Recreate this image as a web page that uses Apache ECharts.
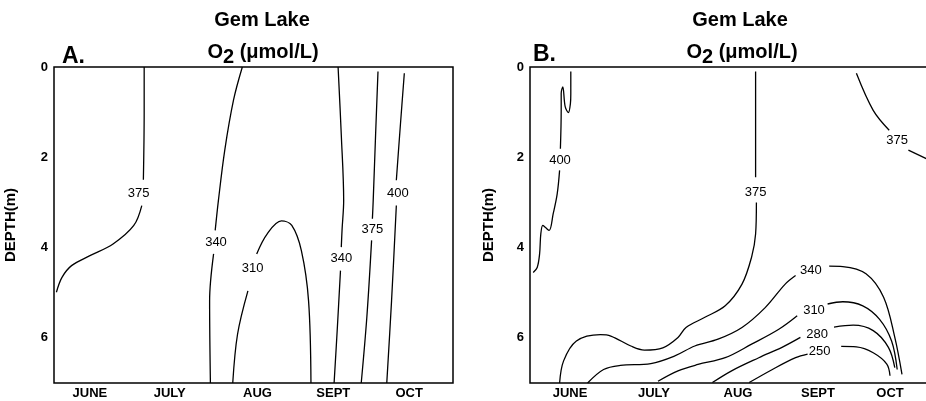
<!DOCTYPE html>
<html>
<head>
<meta charset="utf-8">
<script src="https://cdn.jsdelivr.net/npm/echarts@6/dist/echarts.min.js"></script>
<style>
  html, body { margin: 0; padding: 0; background: #fff; }
  #wrap { width: 926px; height: 401px; }
</style>
</head>
<body>
<div id="wrap"></div>
<script>
// months, x in "month units" (0 = start of June)
var months = ['JUNE', 'JULY', 'AUG', 'SEPT', 'OCT'];
var monthPosA = [0.45, 1.45, 2.55, 3.5, 4.45];
var monthPosB = [0.5, 1.55, 2.6, 3.6, 4.5];
var depthTicks = [0, 2, 4, 6];

// contour lines, each one a list of segments of [month, depth(m)]
// panel A
var a375w = [
  [[1.13, 0], [1.13, 1.0], [1.12, 2.5]],
  [[1.10, 3.07], [1.00, 3.51], [0.74, 3.92], [0.45, 4.18], [0.22, 4.40], [0.10, 4.66], [0.03, 4.99]]
];
var a340w = [
  [[2.36, 0], [2.25, 0.73], [2.14, 1.84], [2.06, 2.96], [2.02, 3.62]],
  [[2.0, 4.14], [1.95, 5.18], [1.96, 7.0]]
];
var a310 = [
  [[2.24, 7.0], [2.30, 5.92], [2.43, 4.96]],
  [[2.54, 4.14], [2.67, 3.70], [2.85, 3.41], [2.98, 3.51], [3.10, 4.07], [3.19, 5.18], [3.22, 7.0]]
];
var a340e = [
  [[3.56, 0], [3.60, 1.5], [3.63, 2.96], [3.61, 3.6], [3.60, 3.99]],
  [[3.59, 4.51], [3.55, 5.8], [3.51, 7.0]]
];
var a375e = [
  [[4.06, 0.1], [4.03, 1.5], [4.0, 2.96], [3.99, 3.36]],
  [[3.98, 3.84], [3.92, 5.55], [3.85, 7.0]]
];
var a400 = [
  [[4.39, 0.14], [4.34, 1.3], [4.29, 2.51]],
  [[4.29, 3.07], [4.23, 5.18], [4.17, 7.0]]
];
var aLabels = [['375', 1.06, 2.8], ['340', 2.03, 3.88], ['310', 2.49, 4.47],
               ['340', 3.60, 4.24], ['375', 3.99, 3.6], ['400', 4.31, 2.81]];

// panel B
var b400 = [
  [[0.51, 0.1], [0.51, 0.6], [0.505, 0.81], [0.48, 1.01], [0.44, 0.88], [0.41, 0.44], [0.39, 0.58], [0.39, 0.96], [0.38, 1.81]],
  [[0.37, 2.29], [0.34, 2.81], [0.29, 3.25], [0.24, 3.62], [0.19, 3.55], [0.16, 3.51], [0.135, 3.7], [0.12, 4.14], [0.09, 4.44], [0.04, 4.55]]
];
var b375 = [
  [[2.82, 0.1], [2.82, 2.44]],
  [[2.83, 3.0], [2.82, 3.7], [2.77, 4.21], [2.65, 4.81], [2.44, 5.29], [2.18, 5.55], [1.95, 5.77], [1.85, 5.99],
   [1.66, 6.22], [1.43, 6.27], [1.26, 6.18], [1.01, 5.96], [0.88, 5.93], [0.58, 6.07], [0.42, 6.51], [0.37, 7.0]]
];
var b375e = [
  [[4.08, 0.14], [4.29, 0.96], [4.49, 1.4]],
  [[4.73, 1.84], [5.0, 2.07]]
];
var b340 = [
  [[0.72, 7.0], [0.92, 6.7], [1.13, 6.61], [1.51, 6.57], [1.81, 6.4], [2.06, 6.18], [2.35, 6.03], [2.65, 5.77], [2.94, 5.33], [3.19, 4.81], [3.32, 4.62]],
  [[3.74, 4.41], [3.91, 4.42], [4.20, 4.58], [4.42, 5.1], [4.56, 5.99], [4.65, 6.81]]
];
var b310 = [
  [[1.60, 6.96], [1.85, 6.73], [2.10, 6.59], [2.44, 6.44], [2.77, 6.14], [3.11, 5.81], [3.34, 5.51]],
  [[3.72, 5.25], [3.91, 5.2], [4.16, 5.29], [4.37, 5.59], [4.52, 6.07], [4.59, 6.7]]
];
var b280 = [
  [[2.28, 6.99], [2.52, 6.73], [2.86, 6.44], [3.15, 6.21], [3.38, 5.99]],
  [[3.80, 5.76], [4.04, 5.72], [4.29, 5.84], [4.48, 6.21], [4.56, 6.66]]
];
var b250 = [
  [[2.74, 6.99], [3.03, 6.7], [3.32, 6.44], [3.47, 6.36]],
  [[3.89, 6.19], [4.08, 6.2], [4.29, 6.33], [4.46, 6.58], [4.50, 6.84]]
];
var bLabels = [['400', 0.375, 2.07], ['375', 2.82, 2.77], ['375', 4.59, 1.62], ['340', 3.51, 4.51],
               ['310', 3.55, 5.39], ['280', 3.59, 5.92], ['250', 3.62, 6.29]];

var FONT = 'Liberation Sans';
var INK = '#000';

function contourSeries(segs, idx) {
  return segs.map(function (seg) {
    return {
      type: 'line', xAxisIndex: idx, yAxisIndex: idx,
      data: seg, smooth: 0.35, symbol: 'none', silent: true,
      lineStyle: { color: INK, width: 1.3 }
    };
  });
}

function labelSeries(labels, idx) {
  return {
    type: 'scatter', xAxisIndex: idx, yAxisIndex: idx, symbolSize: 0, silent: true,
    itemStyle: { opacity: 1 },
    data: labels.map(function (l) { return { value: [l[1], l[2]], name: l[0] }; }),
    label: {
      show: true, position: 'inside', formatter: '{b}',
      color: INK, fontSize: 13, fontFamily: FONT
    }
  };
}

function xAxisFor(idx, pos) {
  return {
    type: 'value', gridIndex: idx, min: 0, max: 5, interval: 0.05,
    axisLine: { show: false }, axisTick: { show: false }, splitLine: { show: false },
    axisLabel: {
      margin: 4, color: INK, fontSize: 13, fontWeight: 'bold', fontFamily: FONT,
      formatter: function (v) {
        var k = Math.round(v * 100);
        for (var i = 0; i < pos.length; i++) {
          if (Math.round(pos[i] * 100) === k) return months[i];
        }
        return '';
      }
    }
  };
}

function yAxisFor(idx, gap) {
  return {
    type: 'value', gridIndex: idx, inverse: true, min: 0, max: 7, interval: 2,
    name: 'DEPTH(m)', nameLocation: 'middle', nameGap: gap,
    nameTextStyle: { color: INK, fontSize: 15, fontWeight: 'bold', fontFamily: FONT },
    axisLine: { show: false }, axisTick: { show: false }, splitLine: { show: false },
    axisLabel: {
      margin: 6, color: INK, fontSize: 13, fontWeight: 'bold', fontFamily: FONT,
      formatter: function (v) { return depthTicks.indexOf(v) >= 0 ? String(v) : ''; }
    }
  };
}

var subRich = {
  a: { fontSize: 20, fontWeight: 'bold', fontFamily: FONT, color: INK },
  b: { fontSize: 20, fontWeight: 'bold', fontFamily: FONT, color: INK, padding: [9, 0, 0, 0] }
};
var titleStyle = { fontSize: 20, fontWeight: 'bold', fontFamily: FONT, color: INK };
var letterStyle = { fontSize: 23, fontWeight: 'bold', fontFamily: FONT, color: INK };

var series = []
  .concat(contourSeries(a375w, 0), contourSeries(a340w, 0), contourSeries(a310, 0),
          contourSeries(a340e, 0), contourSeries(a375e, 0), contourSeries(a400, 0))
  .concat(contourSeries(b400, 1), contourSeries(b375, 1), contourSeries(b375e, 1),
          contourSeries(b340, 1), contourSeries(b310, 1), contourSeries(b280, 1), contourSeries(b250, 1));
series.push(labelSeries(aLabels, 0));
series.push(labelSeries(bLabels, 1));

var option = {
  backgroundColor: '#fff',
  animation: false,
  title: [
    { text: 'Gem Lake', left: 257, top: 5, textAlign: 'center', textStyle: titleStyle },
    { text: '{a|O}{b|2}{a| (\u03bcmol/L)}', left: 258, top: 33, textAlign: 'center',
      textStyle: { rich: subRich } },
    { text: 'A.', left: 57, top: 40, textStyle: letterStyle },
    { text: 'Gem Lake', left: 735, top: 5, textAlign: 'center', textStyle: titleStyle },
    { text: '{a|O}{b|2}{a| (\u03bcmol/L)}', left: 737, top: 33, textAlign: 'center',
      textStyle: { rich: subRich } },
    { text: 'B.', left: 528, top: 38, textStyle: letterStyle }
  ],
  grid: [
    { left: 54, top: 67, width: 399, height: 316, show: true, borderColor: INK, borderWidth: 1.5,
      outerBoundsMode: 'none' },
    { left: 530, top: 67, width: 400, height: 316, show: true, borderColor: INK, borderWidth: 1.5,
      outerBoundsMode: 'none' }
  ],
  xAxis: [xAxisFor(0, monthPosA), xAxisFor(1, monthPosB)],
  yAxis: [yAxisFor(0, 36), yAxisFor(1, 34)],
  series: series
};

var myChart = echarts.init(document.getElementById('wrap'));
myChart.setOption(option);
</script>
</body>
</html>
